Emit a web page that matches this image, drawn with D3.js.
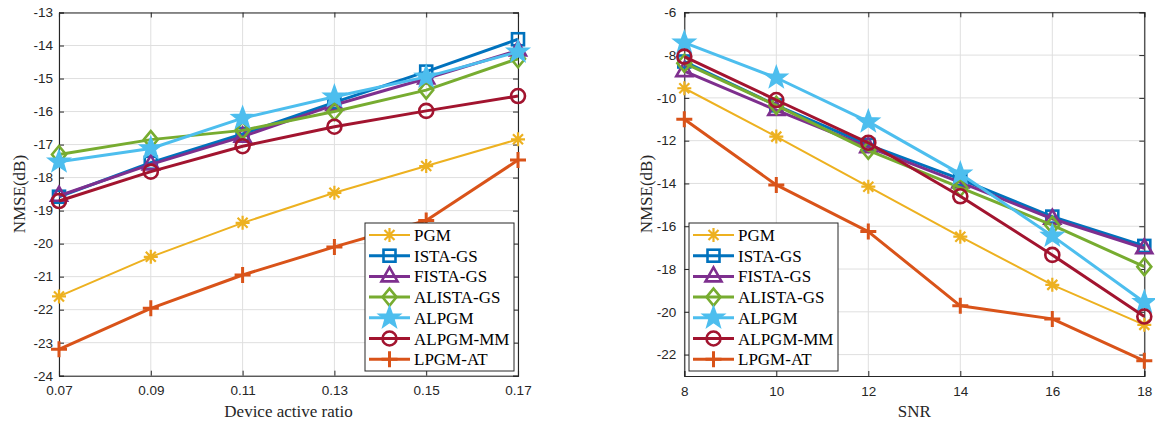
<!DOCTYPE html>
<html>
<head>
<meta charset="utf-8">
<script src="https://cdn.jsdelivr.net/npm/d3@7/dist/d3.min.js"></script>
<style>
  body { margin: 0; background: #fff; }
  svg { display: block; }
</style>
</head>
<body>
<svg id="chart" width="1155" height="423"></svg>
<script>
// series names, in legend order
var names = ["PGM", "ISTA-GS", "FISTA-GS", "ALISTA-GS", "ALPGM", "ALPGM-MM", "LPGM-AT"];

// left panel: NMSE vs device active ratio
var ratioX = [0.07, 0.09, 0.11, 0.13, 0.15, 0.17];
var ratioPGM    = [-21.6, -20.4, -19.37, -18.46, -17.65, -16.84];
var ratioISTA   = [-18.58, -17.55, -16.68, -15.72, -14.79, -13.81];
var ratioFISTA  = [-18.55, -17.6, -16.76, -15.8, -15.0, -14.15];
var ratioALISTA = [-17.3, -16.85, -16.57, -16.0, -15.35, -14.4];
var ratioALPGM  = [-17.52, -17.12, -16.2, -15.55, -14.95, -14.19];
var ratioMM     = [-18.71, -17.82, -17.05, -16.46, -15.98, -15.53];
var ratioAT     = [-23.2, -21.96, -20.95, -20.1, -19.3, -17.47];
var ratioTicksX = [0.07, 0.09, 0.11, 0.13, 0.15, 0.17];
var ratioTicksY = [-24, -23, -22, -21, -20, -19, -18, -17, -16, -15, -14, -13];

// right panel: NMSE vs SNR
var snrX = [8, 10, 12, 14, 16, 18];
var snrPGM    = [-9.55, -11.81, -14.15, -16.49, -18.74, -20.61];
var snrISTA   = [-8.3, -10.35, -12.2, -13.8, -15.55, -16.92];
var snrFISTA  = [-8.75, -10.57, -12.3, -13.95, -15.65, -17.03];
var snrALISTA = [-8.38, -10.35, -12.45, -14.2, -15.95, -17.89];
var snrALPGM  = [-7.42, -9.06, -11.11, -13.55, -16.45, -19.55];
var snrMM     = [-8.07, -10.1, -12.1, -14.6, -17.34, -20.22];
var snrAT     = [-11.0, -14.07, -16.25, -19.72, -20.33, -22.29];
var snrTicksX = [8, 10, 12, 14, 16, 18];
var snrTicksY = [-22, -20, -18, -16, -14, -12, -10, -8, -6];

// matlab default colours and markers
var styles = [
  { color: "#EDB120", marker: "asterisk", width: 2 },
  { color: "#0072BD", marker: "square",   width: 3 },
  { color: "#7E2F8E", marker: "triangle", width: 3 },
  { color: "#77AC30", marker: "diamond",  width: 3 },
  { color: "#4DBEEE", marker: "star",     width: 3 },
  { color: "#A2142F", marker: "circle",   width: 3 },
  { color: "#D95319", marker: "plus",     width: 3 }
];

var svg = d3.select("#chart");
var AXIS = "#262626";

function drawMarker(g, type, x, y, color) {
  var m = g.append("g").attr("transform", "translate(" + x + "," + y + ")");
  if (type === "circle") {
    m.append("circle").attr("r", 7).attr("fill", "none").attr("stroke", color).attr("stroke-width", 2.6);
  } else if (type === "square") {
    m.append("rect").attr("x", -6).attr("y", -6).attr("width", 12).attr("height", 12)
      .attr("fill", "none").attr("stroke", color).attr("stroke-width", 2.6);
  } else if (type === "triangle") {
    m.append("path").attr("d", "M0,-9L8,5L-8,5Z")
      .attr("fill", "none").attr("stroke", color).attr("stroke-width", 2.6).attr("stroke-linejoin", "miter");
  } else if (type === "diamond") {
    m.append("path").attr("d", "M0,-8.5L7,0L0,8.5L-7,0Z")
      .attr("fill", "none").attr("stroke", color).attr("stroke-width", 2.6);
  } else if (type === "star") {
    var pts = [];
    for (var k = 0; k < 10; k++) {
      var r = (k % 2 === 0) ? 11.5 : 4.7;
      var a = -Math.PI / 2 + k * Math.PI / 5;
      pts.push([r * Math.cos(a), r * Math.sin(a)]);
    }
    m.append("path").attr("d", "M" + pts.join("L") + "Z")
      .attr("fill", color).attr("stroke", color).attr("stroke-width", 1.5);
  } else if (type === "plus") {
    m.append("path").attr("d", "M-8,0H8M0,-8V8").attr("stroke", color).attr("stroke-width", 3);
  } else if (type === "asterisk") {
    m.append("path").attr("d", "M-7,0H7M0,-7V7M-5,-5L5,5M-5,5L5,-5")
      .attr("stroke", color).attr("stroke-width", 2.2);
  }
}

function panel(opt) {
  var x = d3.scaleLinear().domain(opt.xDomain).range([opt.left, opt.right]);
  var y = d3.scaleLinear().domain(opt.yDomain).range([opt.bottom, opt.top]);
  var g = svg.append("g");

  // grid
  g.append("g").selectAll("line").data(opt.ticksX).enter().append("line")
    .attr("x1", function(d) { return x(d); }).attr("x2", function(d) { return x(d); })
    .attr("y1", opt.top).attr("y2", opt.bottom)
    .attr("stroke", "#dfdfdf").attr("stroke-width", 1);
  g.append("g").selectAll("line").data(opt.ticksY).enter().append("line")
    .attr("y1", function(d) { return y(d); }).attr("y2", function(d) { return y(d); })
    .attr("x1", opt.left).attr("x2", opt.right)
    .attr("stroke", "#dfdfdf").attr("stroke-width", 1);

  // axes, ticks pointing inward on all four sides
  var tl = 5;
  g.append("g").attr("transform", "translate(0," + opt.bottom + ")")
    .call(d3.axisBottom(x).tickValues(opt.ticksX).tickSize(-tl).tickPadding(10).tickFormat(opt.fmtX));
  g.append("g").attr("transform", "translate(0," + opt.top + ")")
    .call(d3.axisTop(x).tickValues(opt.ticksX).tickSize(-tl).tickFormat(""));
  g.append("g").attr("transform", "translate(" + opt.left + ",0)")
    .call(d3.axisLeft(y).tickValues(opt.ticksY).tickSize(-tl).tickPadding(opt.padY).tickFormat(d3.format("d")));
  g.append("g").attr("transform", "translate(" + opt.right + ",0)")
    .call(d3.axisRight(y).tickValues(opt.ticksY).tickSize(-tl).tickFormat(""));
  g.selectAll(".domain").attr("stroke", AXIS).attr("stroke-width", 1.1);
  g.selectAll(".tick line").attr("stroke", AXIS).attr("stroke-width", 1);
  g.selectAll(".tick text").attr("fill", AXIS)
    .style("font-family", "'Liberation Sans', Arial, sans-serif").style("font-size", "13.5px");
  g.selectAll(".tick text").text(function() { return this.textContent.replace("\u2212", "-"); });

  // series
  var line = d3.line().x(function(d) { return x(d[0]); }).y(function(d) { return y(d[1]); });
  opt.series.forEach(function(vals, i) {
    var pts = opt.xs.map(function(v, j) { return [v, vals[j]]; });
    var s = styles[i];
    g.append("path").datum(pts).attr("d", line)
      .attr("fill", "none").attr("stroke", s.color).attr("stroke-width", s.width)
      .attr("stroke-linejoin", "round");
    pts.forEach(function(p) { drawMarker(g, s.marker, x(p[0]), y(p[1]), s.color); });
  });

  // labels
  g.append("text").attr("x", (opt.left + opt.right) / 2).attr("y", 417)
    .attr("text-anchor", "middle").attr("fill", AXIS)
    .style("font-family", "'Liberation Serif', 'Times New Roman', serif").style("font-size", "17px")
    .text(opt.xLabel);
  g.append("text")
    .attr("transform", "translate(" + opt.yLabelX + "," + ((opt.top + opt.bottom) / 2) + ") rotate(-90)")
    .attr("text-anchor", "middle").attr("fill", AXIS)
    .style("font-family", "'Liberation Serif', 'Times New Roman', serif").style("font-size", "17px")
    .text("NMSE(dB)");

  // legend
  var lg = g.append("g").attr("transform", "translate(" + opt.legX + "," + opt.legY + ")");
  lg.append("rect").attr("x", 0).attr("y", 0).attr("width", 149).attr("height", 148)
    .attr("fill", "#fff").attr("stroke", AXIS).attr("stroke-width", 1);
  names.forEach(function(n, i) {
    var cy = 12 + i * 20.7;
    var s = styles[i];
    lg.append("line").attr("x1", 4).attr("x2", 45).attr("y1", cy).attr("y2", cy)
      .attr("stroke", s.color).attr("stroke-width", s.width);
    drawMarker(lg, s.marker, 24.5, cy, s.color);
    lg.append("text").attr("x", 49).attr("y", cy + 6).attr("fill", "#000")
      .style("font-family", "'Liberation Serif', 'Times New Roman', serif").style("font-size", "17px")
      .text(n);
  });
}

panel({
  left: 59, right: 518, top: 12.5, bottom: 375.7,
  xDomain: [0.07, 0.17], yDomain: [-24, -13],
  ticksX: ratioTicksX, ticksY: ratioTicksY, fmtX: d3.format(".2f"), padY: 6,
  xs: ratioX,
  series: [ratioPGM, ratioISTA, ratioFISTA, ratioALISTA, ratioALPGM, ratioMM, ratioAT],
  xLabel: "Device active ratio", yLabelX: 25,
  legX: 365, legY: 223
});

panel({
  left: 684.3, right: 1144.3, top: 12.3, bottom: 376,
  xDomain: [8, 18], yDomain: [-23, -6],
  ticksX: snrTicksX, ticksY: snrTicksY, fmtX: d3.format("d"), padY: 8,
  xs: snrX,
  series: [snrPGM, snrISTA, snrFISTA, snrALISTA, snrALPGM, snrMM, snrAT],
  xLabel: "SNR", yLabelX: 652,
  legX: 689, legY: 223
});
</script>
</body>
</html>
